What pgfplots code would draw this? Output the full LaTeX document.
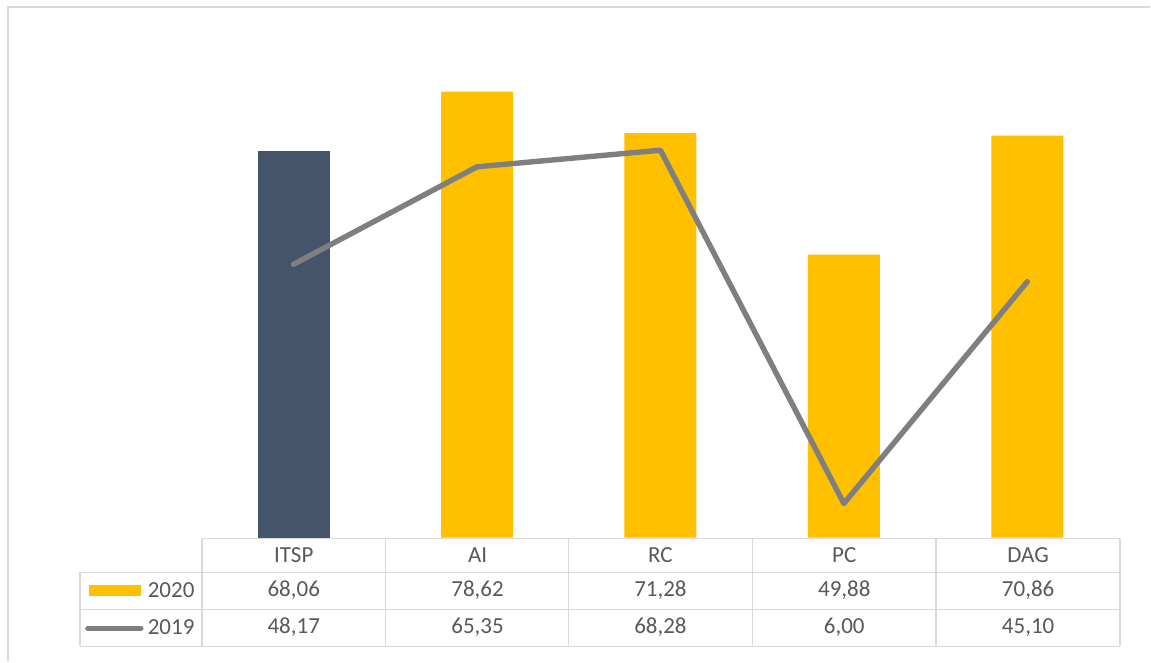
\documentclass[border=0pt]{standalone}
\usepackage{pgfplots}
\pgfplotsset{compat=1.18}
\usepackage{fontspec}
\setmainfont{Carlito}
\definecolor{gold}{HTML}{FFC000}
\definecolor{slate}{HTML}{44546A}
\definecolor{linegray}{HTML}{7F7F7F}
\definecolor{gridc}{HTML}{D9D9D9}
\definecolor{txt}{HTML}{595959}
\begin{document}
\begin{tikzpicture}[x=0.5pt,y=0.5pt]
% bounding box and outer frame (pixel coords, y flipped: Y = 662 - y)
\path[fill=white] (0,0) rectangle (1151,662);
\draw[gridc, line width=1pt] (8,0) -- (8,655) -- (1151,655);
\begin{axis}[
  at={(101pt,62pt)}, anchor=south west,
  scale only axis, width=459pt, height=255.5pt,
  xmin=-0.5, xmax=4.5, ymin=0, ymax=90,
  hide axis, clip=false,
  ybar, bar width=36pt, bar shift=0pt,
]
\addplot[ybar, fill=slate, draw=none] coordinates {(0,68.06)};
\addplot[ybar, fill=gold, draw=none] coordinates {(1,78.62) (2,71.28) (3,49.88) (4,70.86)};
\addplot[sharp plot, linegray, line width=2.7pt, line cap=round, line join=round, mark=none]
  coordinates {(0,48.17) (1,65.35) (2,68.28) (3,6.00) (4,45.10)};
\end{axis}
% data table grid
\begin{scope}[gridc, line width=0.8pt]
\draw (202,123) -- (1121,123);
\draw (80,89) -- (1121,89);
\draw (80,52) -- (1121,52);
\draw (80,15) -- (1121,15);
\draw (80,89) -- (80,15);
\foreach \xx in {202,386,569,753,937,1121} {\draw (\xx,123) -- (\xx,15);}
\end{scope}
\begin{scope}[txt, font=\fontsize{11.5pt}{13pt}\selectfont]
\node at (294,106) {ITSP};
\node at (478,106) {AI};
\node at (661,106) {RC};
\node at (845,106) {PC};
\node at (1029,106) {DAG};
\node at (294,71) {68,06};
\node at (478,71) {78,62};
\node at (661,71) {71,28};
\node at (845,71) {49,88};
\node at (1029,71) {70,86};
\node at (294,34) {48,17};
\node at (478,34) {65,35};
\node at (661,34) {68,28};
\node at (845,34) {6,00};
\node at (1029,34) {45,10};
\node[anchor=east, inner sep=0pt] at (195,71) {2020};
\node[anchor=east, inner sep=0pt] at (195,34) {2019};
\end{scope}
\fill[gold] (89,65) rectangle (141,76);
\draw[linegray, line width=2.7pt, line cap=round] (88,33) -- (141,33);
\end{tikzpicture}
\end{document}
